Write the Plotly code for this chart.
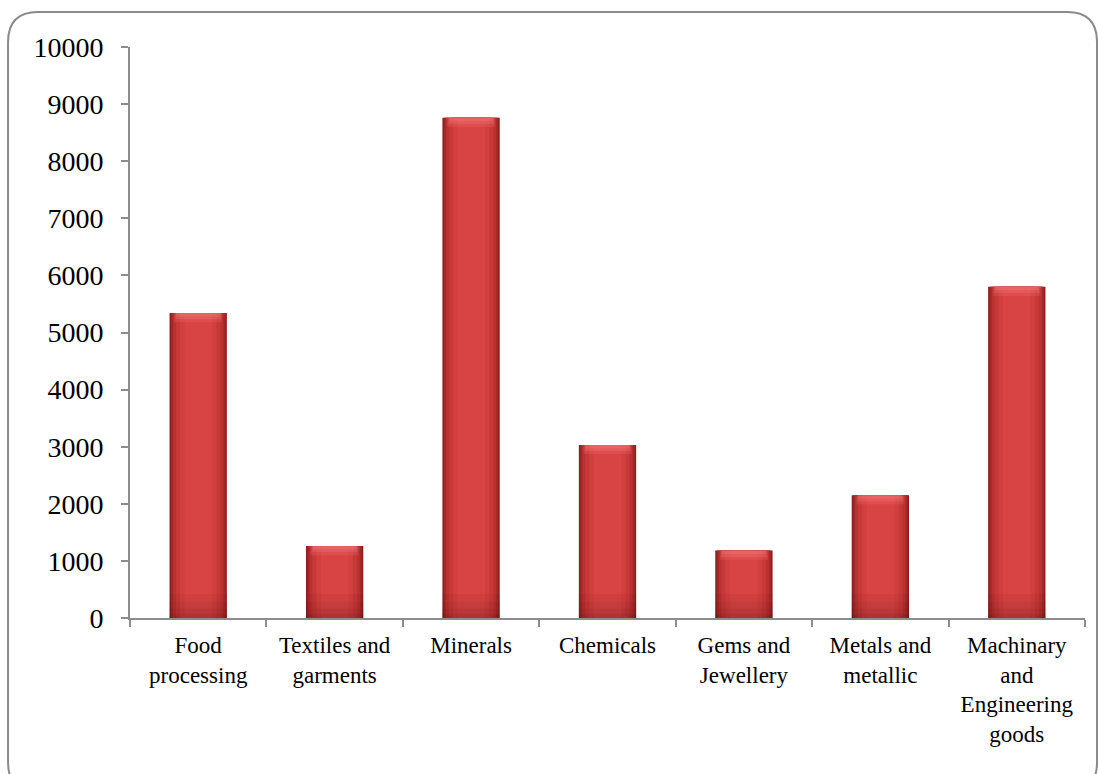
import plotly.graph_objects as go

# Sector categories and their values
categories = [
    "Food<br>processing",
    "Textiles and<br>garments",
    "Minerals",
    "Chemicals",
    "Gems and<br>Jewellery",
    "Metals and<br>metallic",
    "Machinary<br>and<br>Engineering<br>goods",
]
values = [5340, 1260, 8760, 3030, 1180, 2150, 5800]

y_ticks = list(range(0, 10001, 1000))

fig = go.Figure()

# Horizontal shading: stack narrower, lighter bars over wider, darker ones
bar_width = 0.42
layers = [
    (1.00, "#8C1E1E"),
    (0.95, "#A42828"),
    (0.88, "#B93131"),
    (0.78, "#C73838"),
    (0.64, "#D23F3F"),
    (0.48, "#D84444"),
]
for frac, col in layers:
    fig.add_trace(go.Bar(
        x=categories, y=values, width=bar_width * frac,
        marker=dict(color=col, line=dict(width=0)),
        hoverinfo="skip", showlegend=False,
    ))

# Soft bevel highlight along the top of each bar
for depth, frac, alpha in [(160, 0.84, 0.18), (110, 0.80, 0.22), (60, 0.76, 0.25)]:
    fig.add_trace(go.Bar(
        x=categories, y=[depth] * len(values), base=[v - depth for v in values],
        width=bar_width * frac,
        marker=dict(color=f"rgba(250,130,130,{alpha})", line=dict(width=0)),
        hoverinfo="skip", showlegend=False,
    ))

# Gradual darkening toward the base
for depth, alpha in [(420, 0.07), (280, 0.08), (160, 0.09), (70, 0.10)]:
    fig.add_trace(go.Bar(
        x=categories, y=[min(depth, v) for v in values], width=bar_width,
        marker=dict(color=f"rgba(90,10,10,{alpha})", line=dict(width=0)),
        hoverinfo="skip", showlegend=False,
    ))

serif = "Liberation Serif, Times New Roman, serif"

fig.update_layout(
    width=1098, height=774,
    margin=dict(l=130, r=13, t=47, b=156),
    paper_bgcolor="white", plot_bgcolor="white",
    barmode="overlay",
    font=dict(family=serif, color="black"),
    xaxis=dict(
        type="category",
        showline=True, linecolor="#8c8c8c", linewidth=2,
        ticks="outside", ticklen=7, tickcolor="#8c8c8c", tickwidth=2,
        tickson="boundaries", showgrid=False,
        tickfont=dict(family=serif, size=23, color="black"),
        ticklabelstandoff=5,
        range=[-0.5, 6.5],
    ),
    yaxis=dict(
        range=[0, 10000], tickvals=y_ticks, tickformat="d",
        showline=True, linecolor="#8c8c8c", linewidth=2,
        ticks="outside", ticklen=7, tickcolor="#8c8c8c", tickwidth=2,
        showgrid=False, zeroline=False,
        tickfont=dict(family=serif, size=28, color="black"),
        ticklabelstandoff=12,
    ),
)

# Rounded outer frame around the chart
x0, x1 = -0.1277, 1.0126
y0, y1 = -0.305, 1.0613
rx, ry = 0.0314, 0.0525
path = (
    f"M {x0+rx},{y1} L {x1-rx},{y1} Q {x1},{y1} {x1},{y1-ry} "
    f"L {x1},{y0+ry} Q {x1},{y0} {x1-rx},{y0} "
    f"L {x0+rx},{y0} Q {x0},{y0} {x0},{y0+ry} "
    f"L {x0},{y1-ry} Q {x0},{y1} {x0+rx},{y1} Z"
)
fig.add_shape(type="path", path=path, xref="paper", yref="paper",
              line=dict(color="#8a8a8a", width=2), layer="below")

fig.write_html("out.html")
